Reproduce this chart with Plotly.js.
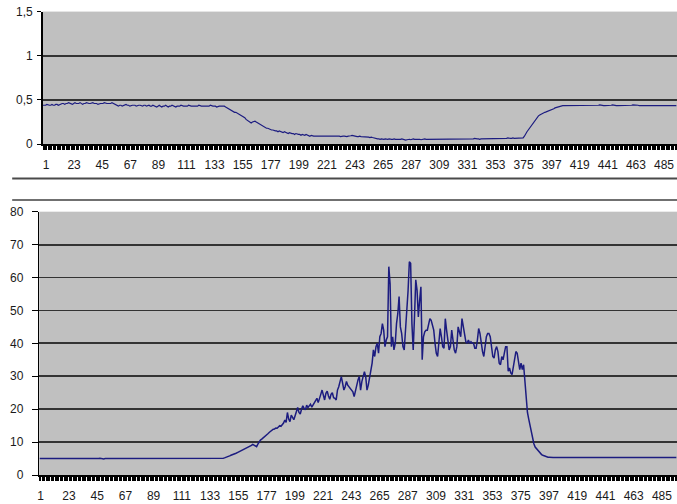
<!DOCTYPE html>
<html>
<head>
<meta charset="utf-8">
<script src="https://cdn.plot.ly/plotly-3.0.1.min.js"></script>
<style>
html,body{margin:0;padding:0;background:#fff;}
#chart{width:677px;height:504px;}
</style>
</head>
<body>
<div id="chart"></div>
<script>
// X tick labels (category numbers shown every 22 categories)
const xTickVals = [1,23,45,67,89,111,133,155,177,199,221,243,265,287,309,331,353,375,397,419,441,463,485];
const xTickText = xTickVals.map(String);

// Top chart tick labels
const topYTickVals = [0, 0.5, 1, 1.5];
const topYTickText = ['0', '0,5', '1', '1,5'];

// Bottom chart tick labels
const botYTickVals = [0, 10, 20, 30, 40, 50, 60, 70, 80];
const botYTickText = ['0', '10', '20', '30', '40', '50', '60', '70', '80'];

// Top series, categories 1..497
const topValues = [
0.44,0.44,0.44,0.45,0.44,0.44,0.44,0.45,0.44,0.44,
0.45,0.45,0.44,0.45,0.45,0.46,0.46,0.45,0.46,0.46,
0.47,0.46,0.46,0.45,0.46,0.47,0.46,0.46,0.46,0.47,
0.46,0.45,0.46,0.46,0.47,0.46,0.46,0.46,0.47,0.47,
0.46,0.46,0.46,0.45,0.46,0.46,0.46,0.46,0.47,0.46,
0.46,0.46,0.46,0.46,0.47,0.46,0.46,0.44,0.44,0.43,
0.44,0.44,0.43,0.44,0.44,0.45,0.44,0.44,0.43,0.44,
0.44,0.44,0.44,0.43,0.44,0.44,0.44,0.43,0.43,0.44,
0.44,0.43,0.44,0.44,0.43,0.43,0.44,0.43,0.43,0.42,
0.43,0.44,0.43,0.42,0.43,0.43,0.44,0.43,0.42,0.43,
0.43,0.44,0.43,0.43,0.42,0.43,0.43,0.43,0.44,0.43,
0.43,0.43,0.43,0.43,0.44,0.43,0.43,0.43,0.43,0.43,
0.43,0.43,0.44,0.43,0.43,0.43,0.43,0.43,0.43,0.43,
0.43,0.44,0.43,0.43,0.43,0.43,0.42,0.43,0.43,0.43,
0.43,0.43,0.43,0.42,0.41,0.40,0.39,0.38,0.37,0.37,
0.36,0.36,0.35,0.35,0.34,0.33,0.32,0.31,0.30,0.28,
0.27,0.25,0.24,0.24,0.25,0.26,0.26,0.25,0.24,0.23,
0.22,0.22,0.21,0.20,0.19,0.18,0.18,0.17,0.16,0.16,
0.16,0.15,0.15,0.15,0.14,0.15,0.14,0.14,0.13,0.14,
0.13,0.13,0.12,0.13,0.12,0.12,0.12,0.11,0.12,0.11,
0.11,0.11,0.10,0.11,0.10,0.10,0.11,0.10,0.10,0.09,
0.10,0.09,0.09,0.09,0.09,0.09,0.09,0.09,0.09,0.09,
0.09,0.09,0.09,0.09,0.09,0.09,0.09,0.09,0.095,0.09,
0.09,0.09,0.09,0.085,0.09,0.09,0.09,0.085,0.085,0.09,
0.09,0.095,0.10,0.095,0.09,0.09,0.085,0.085,0.09,0.085,
0.085,0.08,0.085,0.08,0.085,0.08,0.075,0.08,0.075,0.07,
0.07,0.065,0.06,0.06,0.055,0.06,0.055,0.055,0.06,0.055,
0.055,0.06,0.055,0.055,0.055,0.06,0.055,0.055,0.05,0.055,
0.055,0.06,0.055,0.05,0.045,0.05,0.055,0.055,0.05,0.055,
0.06,0.055,0.055,0.06,0.055,0.055,0.05,0.055,0.055,0.06,
0.055,0.055,0.06,0.06,0.055,0.06,0.06,0.055,0.055,0.06,
0.06,0.055,0.06,0.06,0.055,0.06,0.06,0.06,0.055,0.06,
0.06,0.055,0.06,0.055,0.06,0.06,0.055,0.06,0.06,0.055,
0.06,0.055,0.06,0.06,0.06,0.055,0.06,0.06,0.065,0.06,
0.06,0.06,0.055,0.06,0.06,0.06,0.06,0.065,0.06,0.06,
0.065,0.06,0.06,0.065,0.06,0.06,0.065,0.065,0.06,0.065,
0.065,0.06,0.065,0.065,0.07,0.065,0.065,0.065,0.07,0.065,
0.065,0.07,0.065,0.065,0.07,0.065,0.07,0.09,0.12,0.14,
0.16,0.18,0.20,0.23,0.25,0.27,0.29,0.31,0.32,0.33,
0.34,0.35,0.355,0.36,0.365,0.37,0.38,0.385,0.39,0.395,
0.40,0.41,0.415,0.42,0.425,0.43,0.43,0.435,0.435,0.435,
0.435,0.435,0.435,0.435,0.435,0.435,0.435,0.435,0.435,0.435,
0.435,0.435,0.435,0.435,0.435,0.435,0.435,0.435,0.435,0.435,
0.435,0.435,0.435,0.435,0.435,0.44,0.445,0.44,0.435,0.435,
0.435,0.435,0.435,0.435,0.435,0.44,0.445,0.44,0.435,0.435,
0.435,0.435,0.435,0.435,0.435,0.435,0.435,0.435,0.435,0.435,
0.435,0.44,0.445,0.445,0.44,0.445,0.44,0.435,0.435,0.435,
0.435,0.435,0.435,0.435,0.435,0.435,0.43,0.43,0.43,0.43,
0.43,0.43,0.435,0.435,0.435,0.435,0.43,0.43,0.43,0.435,
0.435,0.435,0.43,0.43,0.43,0.43,0.435
];

// Bottom series, categories 1..497
const bottomValues = [
5.0,5.0,5.0,5.0,5.0,5.0,5.0,5.0,4.9,5.0,
5.0,4.9,4.8,4.8,4.8,4.8,4.9,4.8,4.8,4.8,
4.8,4.9,4.8,4.8,4.8,4.8,4.8,4.8,4.8,4.8,
4.8,4.8,4.8,4.8,4.8,4.8,4.8,4.8,4.8,4.8,
4.8,4.8,4.9,4.9,4.9,5.0,5.0,5.1,5.0,4.9,
4.9,5.0,5.0,5.0,4.9,5.0,5.0,5.1,5.0,4.9,
4.9,5.0,5.0,5.0,5.0,5.0,4.9,5.0,5.0,5.0,
5.0,5.0,5.0,5.0,5.0,5.0,5.0,5.0,5.0,5.0,
5.0,5.0,5.0,5.0,4.9,5.0,5.0,5.0,5.0,5.0,
5.0,5.0,5.0,5.0,5.0,5.0,5.0,5.0,5.0,5.0,
5.0,5.0,5.0,4.9,5.0,5.0,5.0,5.0,5.0,5.0,
5.0,5.0,5.0,5.0,5.0,5.0,5.0,4.9,5.0,5.0,
5.0,5.0,5.0,5.0,5.0,5.0,5.0,5.0,5.0,5.0,
5.0,5.0,5.0,5.0,5.0,5.0,5.0,5.0,5.0,5.0,
5.0,5.0,5.0,5.1,5.2,5.3,5.5,5.6,5.8,6.0,
6.1,6.3,6.5,6.6,6.8,7.0,7.1,7.3,7.5,7.6,
7.9,8.1,8.3,8.5,8.8,9.0,9.3,9.0,8.7,8.6,
9.4,10.2,10.6,10.9,11.2,11.6,11.9,12.2,12.6,13.0,
13.3,13.7,13.9,14.0,14.3,14.2,14.6,15.0,14.8,15.2,
15.8,16.7,16.0,19.0,17.0,16.2,18.2,17.5,16.8,18.0,
19.2,20.5,19.0,18.5,20.0,21.0,20.3,19.8,21.2,20.5,
21.0,21.5,20.6,21.3,21.8,22.5,23.3,22.0,23.0,24.5,
25.8,24.0,22.8,24.8,25.5,24.0,23.0,24.5,25.0,23.5,
23.3,22.8,25.8,26.8,28.4,29.9,27.9,25.8,26.8,28.4,
27.3,26.8,26.3,25.8,25.3,23.8,25.8,27.9,28.9,29.9,
25.8,28.4,29.9,31.4,29.9,25.8,27.3,29.4,31.9,34.0,
38,36,39,40,37,42,43,46,44,39,
41,42,63.3,58,39,42,38,40,46,49,
54.2,45,43,39,38,44,48,56,64.8,64.3,
46,38,48,59.3,56.2,48,53,57.2,35,42,
43.5,44,44,46,47.5,47,45,44,40,37,
36,42,44.5,42,39,38.5,47.5,44,40,38,
39,44,41,38,37,39,45,43,42,47.5,
45,42,40.5,40,41,40,40.5,40,40,38.5,
38.5,41,44.5,43,40,37.5,36,39.5,42,43,
43,42,39.5,36,35.5,38,39,37.5,34,33.5,
36,35,37,39,39,31.5,32.5,31,30.5,33,
36,37.5,37,35,32,34,32,33.5,29,22,
19,17,15,12.5,10.5,9.5,8.5,8,7.5,7,
6.5,6.2,6,5.8,5.6,5.5,5.4,5.4,5.3,5.3,
5.3,5.3,5.3,5.3,5.3,5.3,5.3,5.3,5.4,5.3,
5.3,5.3,5.3,5.3,5.4,5.3,5.3,5.3,5.3,5.3,
5.3,5.3,5.3,5.3,5.3,5.3,5.3,5.4,5.3,5.3,
5.3,5.3,5.3,5.3,5.3,5.3,5.4,5.3,5.3,5.3,
5.3,5.3,5.3,5.3,5.3,5.3,5.3,5.3,5.3,5.4,
5.3,5.3,5.3,5.3,5.3,5.3,5.3,5.3,5.3,5.3,
5.3,5.3,5.3,5.3,5.3,5.3,5.3,5.3,5.3,5.3,
5.3,5.3,5.3,5.3,5.3,5.3,5.3,5.4,5.4,5.3,
5.3,5.3,5.3,5.3,5.3,5.3,5.4,5.5,5.4,5.3,
5.3,5.3,5.3,5.3,5.3,5.3,5.3
];

const lineColor = '#1c1c80';
const gridColor = '#333333';
const FONT = 'Liberation Sans, Arial, sans-serif';

const traces = [
  {type:'scatter', mode:'lines', y: topValues, x0: 1, dx: 1, xaxis:'x', yaxis:'y',
   line:{color:lineColor, width:1.2}, hoverinfo:'skip'},
  {type:'scatter', mode:'lines', y: bottomValues, x0: 1, dx: 1, xaxis:'x2', yaxis:'y2',
   line:{color:lineColor, width:1.5}, hoverinfo:'skip'}
];

function xAxis(domain, anchor, shift) {
  return {
    domain: domain, anchor: anchor, range: [0.7, 497.5],
    tickmode: 'array', tickvals: xTickVals, ticktext: xTickText,
    ticks: 'outside', ticklen: 4, tickwidth: 1, tickcolor: '#000',
    showline: true, linecolor: '#000', linewidth: 1.5,
    showgrid: false, zeroline: false,
    minor: {ticks: 'outside', tickmode: 'linear', tick0: 1, dtick: 1, ticklen: 4, tickwidth: 1, tickcolor: '#000', showgrid: false},
    tickfont: {family: FONT, size: 12, color: '#1a1a1a'},
    ticklabelstandoff: 5, ticklabelshift: shift,
    fixedrange: true
  };
}

const layout = {
  width: 677, height: 504,
  margin: {l:0, r:0, t:0, b:0},
  paper_bgcolor: '#ffffff',
  plot_bgcolor: '#c0c0c0',
  showlegend: false,
  font: {family: FONT, size: 12, color: '#1a1a1a'},
  xaxis: xAxis([0.063, 1], 'y', 3),
  xaxis2: xAxis([0.058, 1], 'y2', 1),
  yaxis: {
    domain: [0.714, 0.977], anchor: 'x', range: [0, 1.5],
    tickmode: 'array', tickvals: topYTickVals, ticktext: topYTickText,
    ticks: 'outside', ticklen: 4, tickcolor: '#000',
    showline: true, linecolor: '#000', linewidth: 1.5,
    showgrid: true, gridcolor: gridColor, gridwidth: 1.8, zeroline: false,
    tickfont: {family: FONT, size: 12, color: '#1a1a1a'},
    ticklabelstandoff: 2, fixedrange: true
  },
  yaxis2: {
    domain: [0.0575, 0.58], anchor: 'x2', range: [0, 80],
    tickmode: 'array', tickvals: botYTickVals, ticktext: botYTickText,
    ticks: 'outside', ticklen: 6, tickcolor: '#000',
    showline: true, linecolor: '#000', linewidth: 1.5,
    showgrid: true, gridcolor: gridColor, gridwidth: 1.8, zeroline: false,
    tickfont: {family: FONT, size: 12, color: '#1a1a1a'},
    ticklabelstandoff: 6, fixedrange: true
  },
  shapes: [
    {type:'line', xref:'paper', yref:'paper', x0:0.018, x1:1, y0:0.646, y1:0.646,
     line:{color:'#4a4a4a', width:2}},
    {type:'line', xref:'paper', yref:'paper', x0:0.018, x1:1, y0:0.603, y1:0.603,
     line:{color:'#707070', width:2}}
  ]
};

Plotly.newPlot('chart', traces, layout, {displayModeBar:false, staticPlot:true});
</script>
</body>
</html>
